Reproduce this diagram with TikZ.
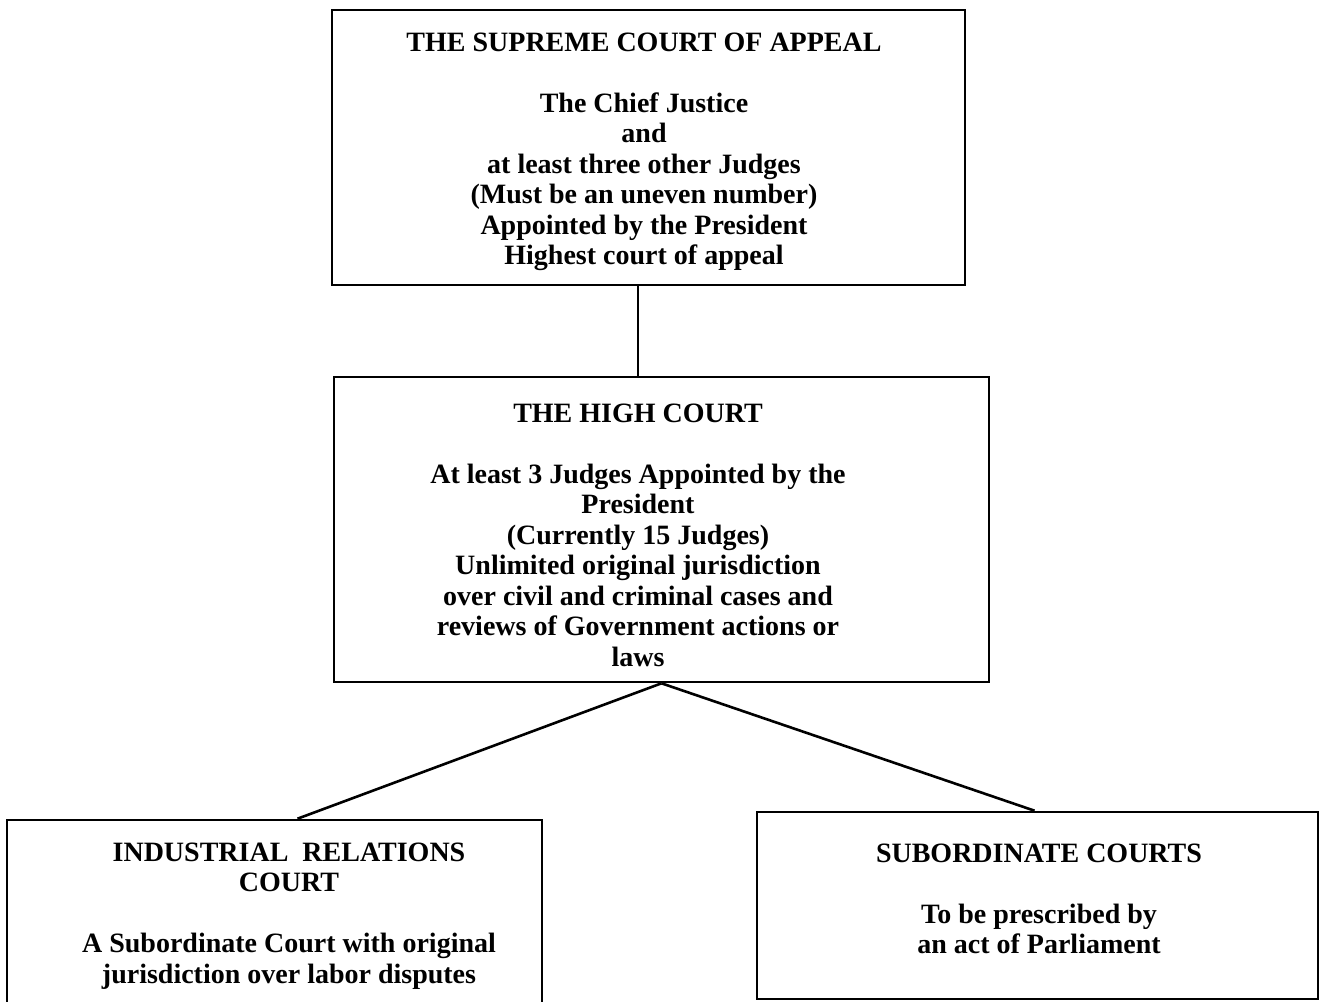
\documentclass[tikz,border=0pt]{standalone}
\usepackage{fontspec}
\setmainfont{Liberation Serif}
\usetikzlibrary{positioning}

\tikzset{
  courtbox/.style={draw, line width=1.3pt, inner sep=0pt},
  courttext/.style={align=center, inner sep=0pt,
    font=\fontsize{14}{15.25}\selectfont\bfseries}
}

\begin{document}
\begin{tikzpicture}[x=0.5pt, y=-0.5pt]
  \useasboundingbox (0,0) rectangle (1327,1001);
  % boxes
  \node[courtbox, minimum width=316.5pt, minimum height=137.5pt] (supreme) at (648.5,147.5) {};
  \node[courtbox, minimum width=327.5pt, minimum height=152.5pt] (high) at (661.5,529.5) {};
  \node[courtbox, minimum width=267.5pt, minimum height=100pt] (irc) at (274.5,920) {};
  \node[courtbox, minimum width=280.5pt, minimum height=93.5pt] (sub) at (1037.5,905.5) {};
  % texts
  \node[courttext] (supremetext) at (644,152) {THE SUPREME COURT OF APPEAL\\[15.25pt]
    The Chief Justice\\ and\\ at least three other Judges\\
    (Must be an uneven number)\\ Appointed by the President\\ Highest court of appeal};
  \node[courttext] (hightext) at (638,535) {THE HIGH COURT\\[15.25pt]
    At least 3 Judges Appointed by the\\ President\\ (Currently 15 Judges)\\
    Unlimited original jurisdiction\\ over civil and criminal cases and\\
    reviews of Government actions or\\ laws};
  \node[courttext] (irctext) at (289,916) {INDUSTRIAL\ \ RELATIONS\\ COURT\\[15.25pt]
    A Subordinate Court with original\\ jurisdiction over labor disputes};
  \node[courttext] (subtext) at (1039,899) {SUBORDINATE COURTS\\[15.25pt]
    To be prescribed by\\ an act of Parliament};
  % connectors
  \draw[line width=1.3pt] (supreme.south -| hightext) -- (high.north -| hightext);
  \draw[line width=1.3pt] (high.south) -- ([xshift=11.5pt]irc.north);
  \draw[line width=1.3pt] (high.south) -- ([xshift=-1.5pt]sub.north);
\end{tikzpicture}
\end{document}
